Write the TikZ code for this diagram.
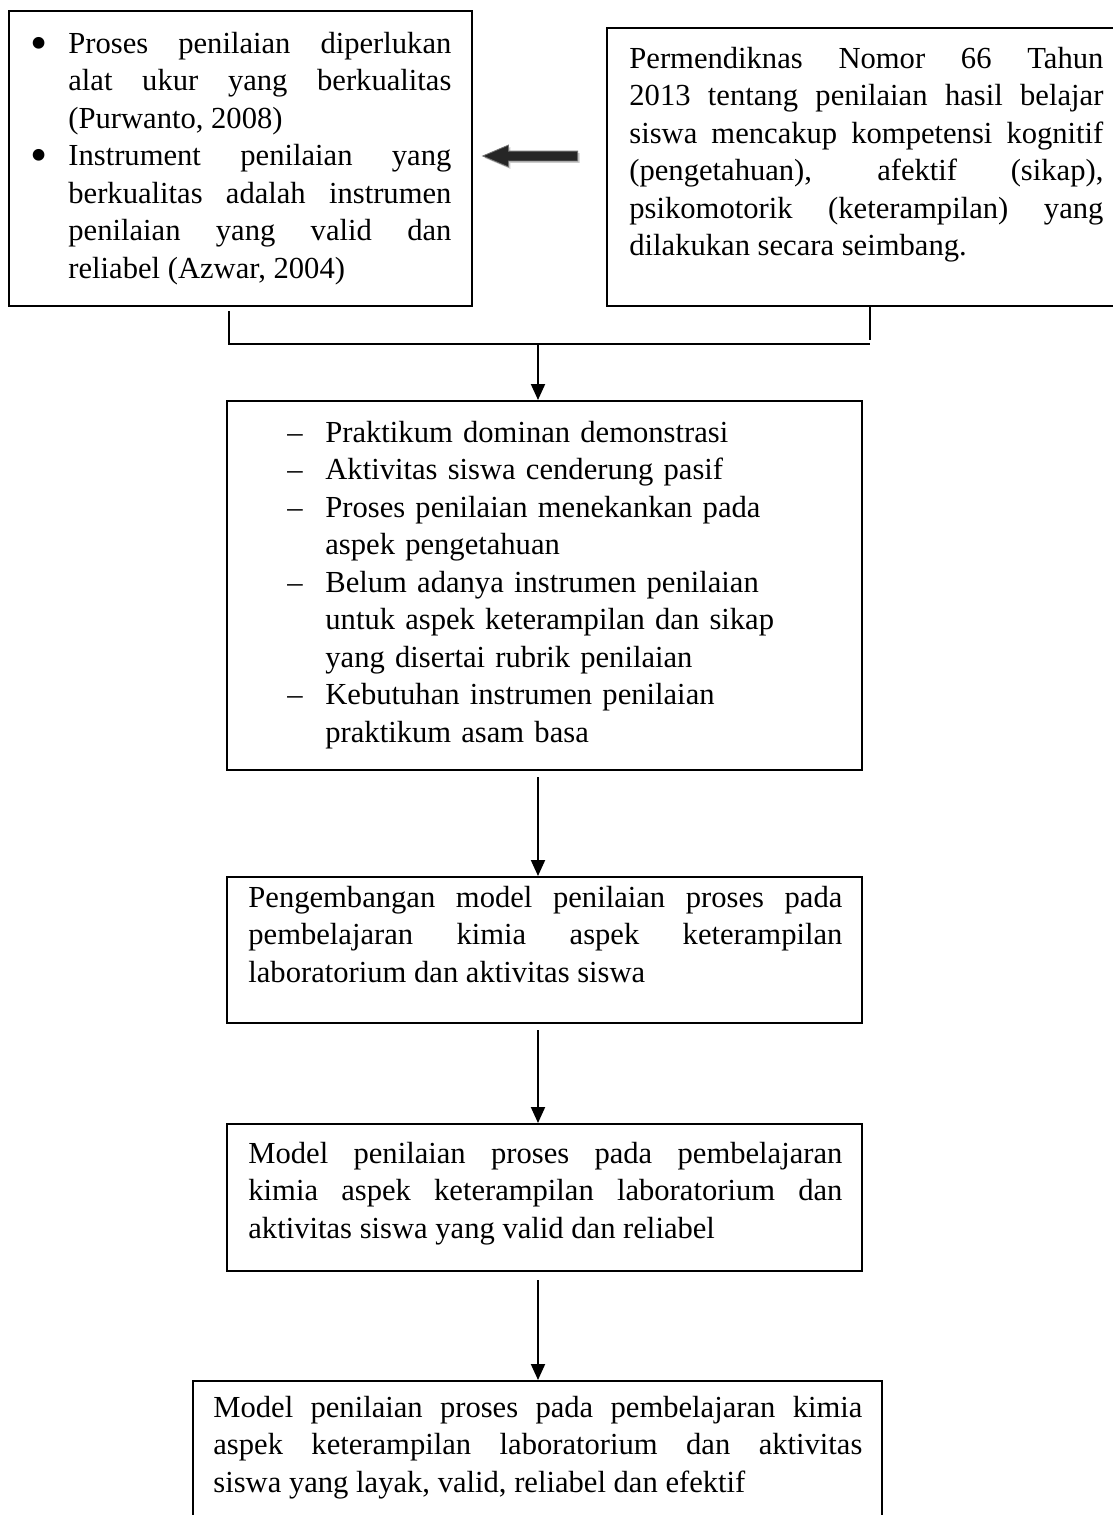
\documentclass[tikz,border=0pt]{standalone}
\usepackage{fontspec}
\setmainfont{Liberation Serif}
\usepackage{tikz}
\usetikzlibrary{arrows.meta,calc,fit,shapes.arrows,shadows}

\newcommand{\butir}{\makebox[19pt][l]{--}}
\newcommand{\lanjut}{\hspace*{19pt}}
\newcommand{\titik}{\llap{\raisebox{-3pt}{\scalebox{1.6}{\textbullet}}\hspace{10.5pt}}}

\begin{document}
\begin{tikzpicture}[x=0.5pt, y=-0.5pt,
    kotak/.style={draw, line width=1pt, inner sep=0pt},
    teks/.style={anchor=north west, inner sep=0pt, align=justify, font=\fontsize{15.3pt}{18.75pt}\selectfont},
    panah/.style={line width=1pt, -{Triangle[length=8pt, width=7pt]}}]
    \useasboundingbox (0, 0) rectangle (1113, 1515);

    \node[kotak, fit={(9, 11) (472, 306)}] (kiri) {};
    \node[kotak, fit={(607, 28) (1133, 306)}] (kanan) {};
    \node[kotak, fit={(227, 401) (862, 770)}] (masalah) {};
    \node[kotak, fit={(227, 877) (862, 1023)}] (pengembangan) {};
    \node[kotak, fit={(227, 1124) (862, 1271)}] (model_valid) {};
    \node[kotak, fit={(193, 1381) (882, 1560)}] (model_efektif) {};

    \node[teks, text width=191.5pt] (teks_kiri) at (68, 26.75) {\noindent\strut\titik Proses penilaian diperlukan\linebreak alat ukur yang berkualitas\linebreak (Purwanto, 2008)\par
        \noindent\strut\titik Instrument penilaian yang\linebreak berkualitas adalah instrumen\linebreak penilaian yang valid dan\linebreak reliabel (Azwar, 2004)};
    \node[teks, text width=237pt] (teks_kanan) at (629, 41.75) {\strut Permendiknas Nomor 66 Tahun\linebreak 2013 tentang penilaian hasil belajar\linebreak siswa mencakup kompetensi kognitif\linebreak (pengetahuan), afektif (sikap),\linebreak psikomotorik (keterampilan) yang\linebreak dilakukan secara seimbang.};
    \node[teks, text width=260pt, align=left] (teks_masalah) at (287, 415.75) {\strut\butir Praktikum dominan demonstrasi\\
        \butir Aktivitas siswa cenderung pasif\\
        \butir Proses penilaian menekankan pada\\
        \lanjut aspek pengetahuan\\
        \butir Belum adanya instrumen penilaian\\
        \lanjut untuk aspek keterampilan dan sikap\\
        \lanjut yang disertai rubrik penilaian\\
        \butir Kebutuhan instrumen penilaian\\
        \lanjut praktikum asam basa};
    \node[teks, text width=297pt] (teks_pengembangan) at (248, 880.75) {\strut Pengembangan model penilaian proses pada\linebreak pembelajaran kimia aspek keterampilan\linebreak laboratorium dan aktivitas siswa};
    \node[teks, text width=297pt] (teks_valid) at (248, 1136.75) {\strut Model penilaian proses pada pembelajaran\linebreak kimia aspek keterampilan laboratorium dan\linebreak aktivitas siswa yang valid dan reliabel};
    \node[teks, text width=324.5pt] (teks_efektif) at (213, 1390.75) {\strut Model penilaian proses pada pembelajaran kimia\linebreak aspek keterampilan laboratorium dan aktivitas\linebreak siswa yang layak, valid, reliabel dan efektif};

    \node[single arrow, shape border rotate=180, fill=black!85, draw=black!55,
        drop shadow={shadow xshift=1pt, shadow yshift=-1pt, fill=black!40},
        minimum height=47.5pt, inner sep=2.25pt, single arrow head extend=3pt,
        single arrow tip angle=46] (panah_blok) at (536, 156) {};

    \coordinate (gabung) at (538, 344);
    \draw[line width=1pt] ([xshift=-6pt, yshift=-2pt]kiri.south) |- (kanan.south |- gabung);
    \draw[line width=1pt] (kanan.south) -- ([yshift=2pt]kanan.south |- gabung);
    \draw[panah] (gabung) -- (masalah.north -| gabung);
    \draw[panah] ([yshift=-3pt]masalah.south -| gabung) -- (pengembangan.north -| gabung);
    \draw[panah] ([yshift=-3pt]pengembangan.south -| gabung) -- (model_valid.north -| gabung);
    \draw[panah] ([yshift=-4pt]model_valid.south -| gabung) -- (model_efektif.north -| gabung);
\end{tikzpicture}
\end{document}
